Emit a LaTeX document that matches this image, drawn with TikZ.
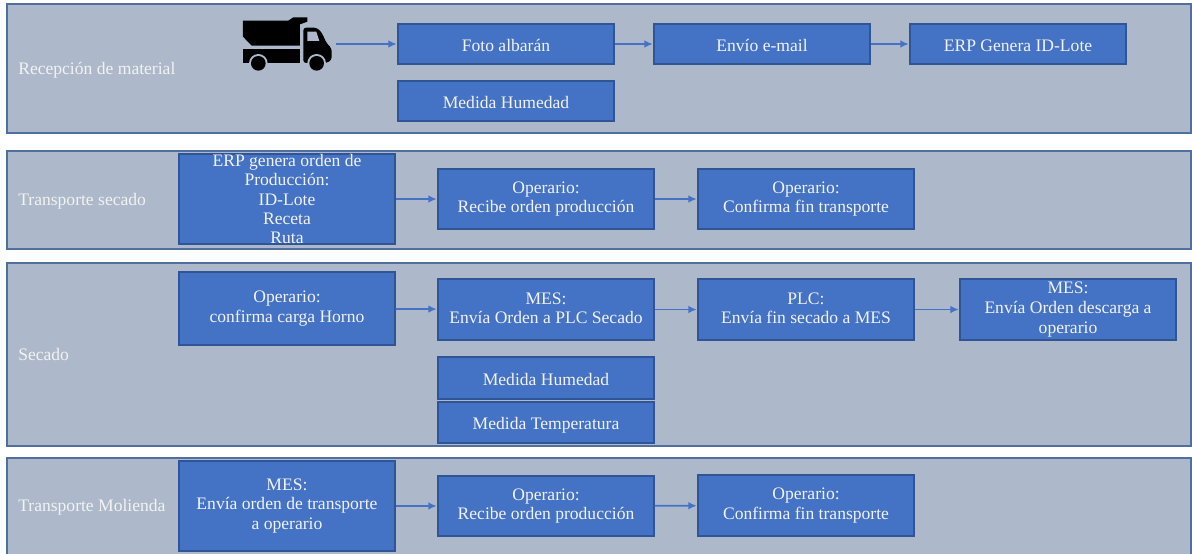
\documentclass[tikz,border=0pt]{standalone}
\usepackage{fontspec}
\setmainfont{Liberation Serif}
\usepackage{tikz}
\usetikzlibrary{arrows.meta}
\definecolor{bandfill}{HTML}{ADB9CA}
\definecolor{bandline}{HTML}{4F6F9F}
\definecolor{boxfill}{HTML}{4472C4}
\definecolor{boxline}{HTML}{2F5597}
\definecolor{labeltext}{HTML}{F2F2F2}
\tikzset{
band/.style={draw=bandline,fill=bandfill,line width=0.8pt,minimum width=29.6cm,inner sep=0},
bandlabel/.style={anchor=west,text=labeltext,inner sep=0},
plainbox/.style={draw=boxline,fill=boxfill,line width=0.8pt,text=labeltext,align=center,minimum width=5.4cm,inner sep=0},
stepbox/.style={plainbox,execute at begin node={\rule{0pt}{13pt}},execute at end node={\rule[-2pt]{0pt}{2pt}}},
flow/.style={-{Latex[length=6pt,width=5.5pt]},draw=boxfill,line width=1.2pt,shorten >=0.5pt}
}

\begin{document}
\begin{tikzpicture}
[font=\fontsize{12.5}{14}\selectfont]
\useasboundingbox (0,0) rectangle (29.8,-13.825);

\node(band1)[band,minimum height=3.225cm] at (14.975,-1.7125) {};
\node(band2)[band,minimum height=2.45cm] at (14.975,-5) {};
\node(band3)[band,minimum height=4.575cm] at (14.975,-8.8625) {};
\node(band4)[band,minimum height=2.45cm] at (14.975,-12.675) {};

\node(label1)[bandlabel] at (0.45,-1.75) {Recepción de material};
\node(label2)[bandlabel] at (0.45,-5.02) {Transporte secado};
\node(label3)[bandlabel] at (0.45,-8.87) {Secado};
\node(label4)[bandlabel] at (0.45,-12.67) {Transporte Molienda};

% truck
\begin{scope}[shift={(5.625,-0.125)},x=0.008333cm,y=-0.008333cm]
\fill (54,47) -- (190,47) -- (205,37) -- (247,37) -- (247,50) -- (225,58) -- (225,122) -- (80,122) -- (54,95) -- cycle;
\fill (54,133) -- (225,133) -- (225,174) -- (54,174) -- cycle;
\fill[rounded corners=2pt] (235,68) -- (275,68) -- (290,82) -- (305,115) -- (320,130) -- (320,165) -- (305,174) -- (235,174) -- cycle;
\fill[bandfill] (247,80) -- (274,80) -- (283,108) -- (247,108) -- cycle;
\fill[bandfill] (100,175) circle (28);
\fill[bandfill] (275,175) circle (28);
\fill[bandfill] (40,174) rectangle (330,205);
\fill (100,175) circle (22);
\fill (275,175) circle (22);
\end{scope}
\coordinate(truck) at (8.4,-1.1);

\node(foto)[stepbox,minimum height=1cm] at (12.65,-1.1) {Foto albarán};
\node(email)[stepbox,minimum height=1cm] at (19.05,-1.1) {Envío e-mail};
\node(idlote)[stepbox,minimum height=1cm] at (25.45,-1.1) {ERP Genera ID-Lote};
\node(humedad1)[stepbox,minimum height=1cm] at (12.65,-2.525) {Medida Humedad};

\node(orden1)[plainbox,minimum height=2.25cm,font=\fontsize{12.5}{13.6}\selectfont] at (7.175,-4.975) {ERP genera orden de\\Producción:\\ID-Lote\\Receta\\Ruta};
\node(recibe1)[stepbox,minimum height=1.5cm] at (13.65,-4.975) {Operario:\\Recibe orden producción};
\node(fin1)[stepbox,minimum height=1.5cm] at (20.15,-4.975) {Operario:\\Confirma fin transporte};

\node(carga)[stepbox,minimum height=1.825cm] at (7.175,-7.7125) {Operario:\\confirma carga Horno};
\node(plc1)[stepbox,minimum height=1.525cm] at (13.65,-7.7375) {MES:\\Envía Orden a PLC Secado};
\node(plc2)[stepbox,minimum height=1.525cm] at (20.15,-7.7375) {PLC:\\Envía fin secado a MES};
\node(descarga)[stepbox,minimum height=1.525cm] at (26.7,-7.7375) {MES:\\Envía Orden descarga a\\operario};
\node(humedad2)[stepbox,minimum height=1.05cm] at (13.65,-9.45) {Medida Humedad};
\node(temp)[stepbox,minimum height=1.025cm] at (13.65,-10.5625) {Medida Temperatura};

\node(orden2)[stepbox,minimum height=2.25cm] at (7.175,-12.65) {MES:\\Envía orden de transporte\\a operario};
\node(recibe2)[stepbox,minimum height=1.5cm] at (13.65,-12.65) {Operario:\\Recibe orden producción};
\node(fin2)[stepbox,minimum height=1.525cm] at (20.15,-12.6375) {Operario:\\Confirma fin transporte};

\draw[flow] (truck) -- (foto);
\draw[flow] (foto) -- (email);
\draw[flow] (email) -- (idlote);
\draw[flow] (orden1) -- (recibe1);
\draw[flow] (recibe1) -- (fin1);
\draw[flow] (carga) -- (plc1);
\draw[flow] (plc1) -- (plc2);
\draw[flow] (plc2) -- (descarga);
\draw[flow] (orden2) -- (recibe2);
\draw[flow] (recibe2) -- (fin2);

\end{tikzpicture}
\end{document}
